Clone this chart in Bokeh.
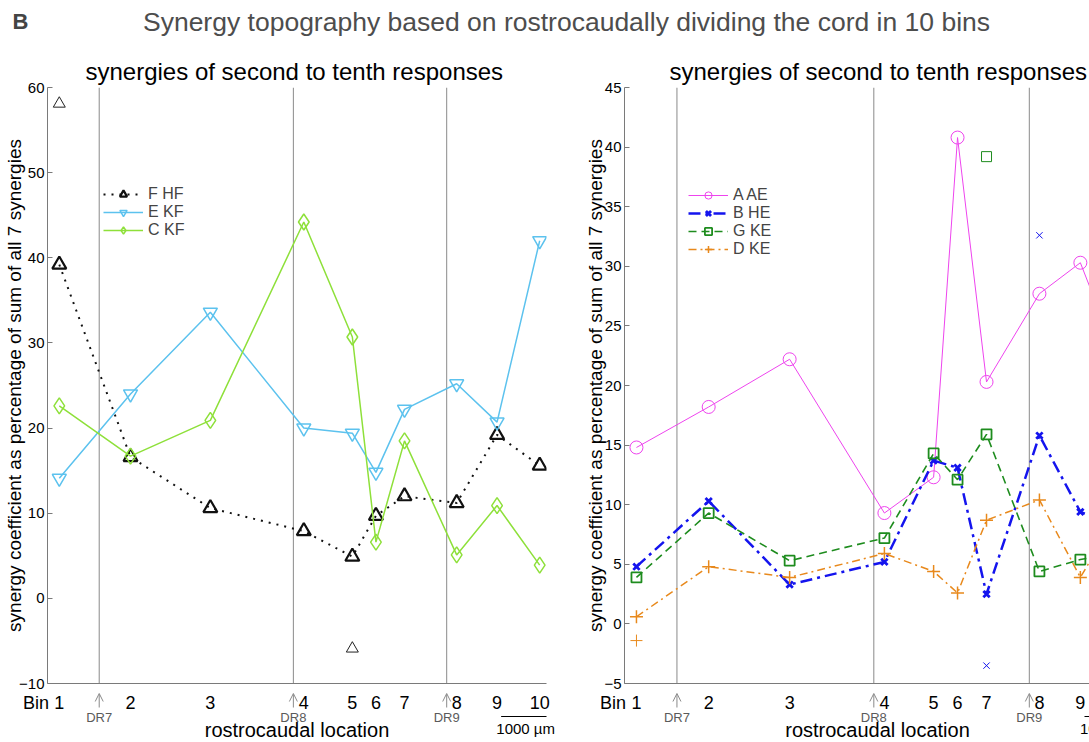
from bokeh.plotting import figure
from bokeh.models import Range1d, FixedTicker, Label, Arrow, OpenHead, Legend, LegendItem, Title
from bokeh.core.properties import value
from bokeh.layouts import column, row
from bokeh.embed import file_html
from bokeh.resources import INLINE

FONT = "Liberation Sans"

# ---------------- data ----------------
bin_labels = ["1", "2", "3", "4", "5", "6", "7", "8", "9", "10"]
bin_centers_um = [260, 1830, 3590, 5650, 6720, 7240, 7870, 9020, 9910, 10850]
dr_labels = ["DR7", "DR8", "DR9"]
dr_um = [1140, 5420, 8800]

# left panel
F_HF = [39.2, 16.6, 10.6, 7.9, 4.9, 9.7, 12.0, 11.2, 19.2, 15.6]
F_HF_out_bins = [1, 5]
F_HF_out_vals = [58.1, -5.9]
E_KF = [14.1, 24.0, 33.6, 20.0, 19.4, 14.8, 22.2, 25.2, 20.7, 42.0]
C_KF = [22.6, 16.7, 20.9, 44.2, 30.7, 6.6, 18.5, 5.1, 10.9, 3.9]

# right panel
A_AE = [14.8, 18.2, 22.2, 9.3, 12.3, 40.8, 20.3, 27.7, 30.3, 21.0]
B_HE = [4.8, 10.3, 3.3, 5.2, 13.7, 13.1, 2.5, 15.8, 9.4, 8.0]
B_HE_out_bins = [7, 8]
B_HE_out_vals = [-3.5, 32.6]
G_KE = [3.9, 9.3, 5.3, 7.2, 14.3, 12.1, 15.9, 4.4, 5.4, 6.0]
G_KE_out_bins = [7]
G_KE_out_vals = [39.2]
D_KE = [0.6, 4.8, 3.9, 5.9, 4.4, 2.6, 8.7, 10.4, 3.9, 10.0]
D_KE_out_bins = [1]
D_KE_out_vals = [-1.4]

main_title = "Synergy topography based on rostrocaudally dividing the cord in 10 bins"
sub_title = "synergies of second to tenth responses"
y_title = "synergy coefficient as percentage of sum of all 7 synergies"
x_title = "rostrocaudal location"
scale_text = "1000 µm"
scale_um = [10000, 11000]

# ---------------- layout constants ----------------
GRAY = "#8a8a8a"
AXC = "#7a7a7a"
HEAD_H = 47
PANEL_H = 645               # top border 40 + frame 596 + bottom 9
BOT_H = 49

P1_W, P1_L, P1_R = 576, 47, 30
P2_W, P2_L = 513, 48
P1_FRAME = P1_W - P1_L - P1_R
PX1 = 11000.0 / P1_FRAME        # micrometres per pixel, left panel
PX2 = 1000.0 / 46.0             # micrometres per pixel, right panel
P2_FRAME = P2_W - P2_L


def make_panel(width, x_end, ymin, ymax, yticks, border_left, border_right, title_offset,
               label_standoff):
    p = figure(width=width, height=PANEL_H, x_range=Range1d(0, x_end),
               y_range=Range1d(ymin, ymax), toolbar_location=None, output_backend="svg",
               min_border_left=border_left, min_border_right=border_right,
               min_border_top=40, min_border_bottom=9)
    p.outline_line_color = None
    p.xgrid.visible = False
    p.ygrid.visible = False

    p.xaxis.ticker = FixedTicker(ticks=[])
    p.xaxis.axis_line_color = AXC
    p.xaxis.major_tick_line_color = None
    p.xaxis.minor_tick_line_color = None

    p.yaxis.ticker = FixedTicker(ticks=yticks)
    p.yaxis.axis_line_color = AXC
    p.yaxis.major_tick_in = 5
    p.yaxis.major_tick_out = 0
    p.yaxis.minor_tick_line_color = None
    p.yaxis.major_tick_line_color = AXC
    p.yaxis.major_label_text_font = FONT
    p.yaxis.major_label_text_font_size = "15px"
    p.yaxis.major_label_text_color = "black"
    p.yaxis.major_label_standoff = 3
    p.yaxis.axis_label = y_title
    p.yaxis.axis_label_text_font = FONT
    p.yaxis.axis_label_text_font_size = "19px"
    p.yaxis.axis_label_text_font_style = "normal"
    p.yaxis.axis_label_text_color = "black"
    p.yaxis.axis_label_standoff = label_standoff

    p.title = Title(text=sub_title, align="left", offset=title_offset, standoff=6,
                    text_font=FONT, text_font_size="24px", text_font_style="normal",
                    text_color="black")

    # dorsal root boundaries
    p.segment(x0=dr_um, y0=[ymin] * len(dr_um), x1=dr_um, y1=[ymax] * len(dr_um),
              line_color=GRAY, line_width=1)
    return p


def make_bottom(width, border_left, px):
    x_hi = (width - border_left) * px
    b = figure(width=width, height=BOT_H, title=None,
               x_range=Range1d(-border_left * px, x_hi),
               y_range=Range1d(BOT_H, 0), toolbar_location=None, output_backend="svg",
               min_border=0, x_axis_location=None, y_axis_location=None)
    b.outline_line_color = None
    b.grid.visible = False
    mid = dict(text_baseline="middle", text_font=value(FONT), text_color="black")
    # bin numbers (only those that fall on this panel's visible width)
    vis = [(c, l) for c, l in zip(bin_centers_um, bin_labels) if c < x_hi]
    b.text(x=[c for c, _ in vis], y=[10] * len(vis), text=[l for _, l in vis],
           text_align="center", text_font_size="18px", **mid)
    b.text(x=[1.5 * px], y=[10], text=["Bin"], text_align="right", text_font_size="18px", **mid)
    # DR arrows and labels
    for x in dr_um:
        b.add_layout(Arrow(end=OpenHead(size=8, line_color=GRAY, line_width=1),
                           x_start=x, y_start=15, x_end=x, y_end=1,
                           line_color=GRAY, line_width=1))
    b.text(x=dr_um, y=[24.5] * len(dr_um), text=dr_labels, text_align="center",
           text_baseline="middle", text_font=value(FONT), text_font_size="13px",
           text_color="#5a5a5a")
    # scale bar
    b.segment(x0=[scale_um[0]], y0=[24], x1=[scale_um[1]], y1=[24], line_color="black",
              line_width=1)
    b.text(x=[(scale_um[0] + scale_um[1]) / 2 + 40], y=[36], text=[scale_text],
           text_align="center", text_font_size="15px", **mid)
    # axis title
    b.text(x=[5500], y=[37], text=[x_title], text_align="center", text_font_size="20px",
           **mid)
    return b


def add_series(p, vals, color, width, dash, marker, size, mwidth):
    ln = p.line(bin_centers_um, vals, line_color=color, line_width=width, line_dash=dash)
    sc = p.scatter(bin_centers_um, vals, marker=marker, size=size, line_color=color,
                   fill_color=None, line_width=mwidth)
    return [ln, sc]


def add_outliers(p, bins, vals, color, marker, size):
    xs = [bin_centers_um[b - 1] for b in bins]
    p.scatter(xs, vals, marker=marker, size=size, line_color=color, fill_color=None, line_width=1)


def add_legend(p, items, loc):
    lg = Legend(items=[LegendItem(label=l, renderers=r) for l, r in items], location=loc,
                padding=0, margin=0, spacing=0, glyph_width=40, glyph_height=18,
                label_standoff=5, label_text_font=FONT, label_text_font_size="16px",
                label_height=18, border_line_color=None, background_fill_alpha=0)
    p.add_layout(lg)


# ---------------- left panel ----------------
p1 = make_panel(P1_W, 11000, -10, 60, list(range(-10, 61, 10)), P1_L, P1_R, 38, -9)
C_BLACK = "#111111"
C_LBLUE = "#5cc2ee"
C_LIME = "#8ee03a"
r_f = add_series(p1, F_HF, C_BLACK, 2, "2 6", "triangle", 14, 2.2)
r_e = add_series(p1, E_KF, C_LBLUE, 1.5, "solid", "inverted_triangle", 14, 1.5)
r_c = add_series(p1, C_KF, C_LIME, 1.5, "solid", "diamond", 16, 1.5)
add_outliers(p1, F_HF_out_bins, F_HF_out_vals, "#222222", "triangle", 12)
add_legend(p1, [("F HF", r_f), ("E KF", r_e), ("C KF", r_c)], (56, 444))

# ---------------- right panel ----------------
p2 = make_panel(P2_W, P2_FRAME * PX2, -5, 45, list(range(-5, 46, 5)), P2_L, 0, 45, -5)
C_MAG = "#ee44ee"
C_BLUE = "#1414ee"
C_GREEN = "#1e8c1e"
C_ORANGE = "#e8891c"
r_a = add_series(p2, A_AE, C_MAG, 1, "solid", "circle", 13, 1)
r_b = add_series(p2, B_HE, C_BLUE, 2.5, "12 5 3 5", "x", 9, 2.8)
r_g = add_series(p2, G_KE, C_GREEN, 1.6, "8 5", "square", 10, 1.8)
r_d = add_series(p2, D_KE, C_ORANGE, 1.5, "8 4 2 4", "cross", 13, 1.5)
add_outliers(p2, B_HE_out_bins, B_HE_out_vals, C_BLUE, "x", 9)
add_outliers(p2, G_KE_out_bins, G_KE_out_vals, C_GREEN, "square", 10)
add_outliers(p2, D_KE_out_bins, D_KE_out_vals, C_ORANGE, "cross", 12)
add_legend(p2, [("A AE", r_a), ("B HE", r_b), ("G KE", r_g), ("D KE", r_d)], (64, 425))

b1 = make_bottom(P1_W, P1_L, PX1)
b2 = make_bottom(P2_W, P2_L, PX2)

# ---------------- header ----------------
ph = figure(width=1089, height=HEAD_H, title=None, x_range=Range1d(0, 1089),
            y_range=Range1d(HEAD_H, 0), toolbar_location=None, output_backend="svg",
            min_border=0, x_axis_location=None, y_axis_location=None)
ph.grid.visible = False
ph.outline_line_color = None
ph.add_layout(Label(x=12, y=21, text="B", text_align="left", text_baseline="middle",
                    text_font=FONT, text_font_style="bold", text_font_size="22px"))
ph.add_layout(Label(x=566, y=21, text=main_title, text_align="center",
                    text_baseline="middle", text_font=FONT, text_font_size="26.5px",
                    text_color="#4d4d4d"))

layout = column(ph, row(p1, p2, spacing=0), row(b1, b2, spacing=0), spacing=0)
open("out.html", "w").write(file_html(layout, INLINE))
